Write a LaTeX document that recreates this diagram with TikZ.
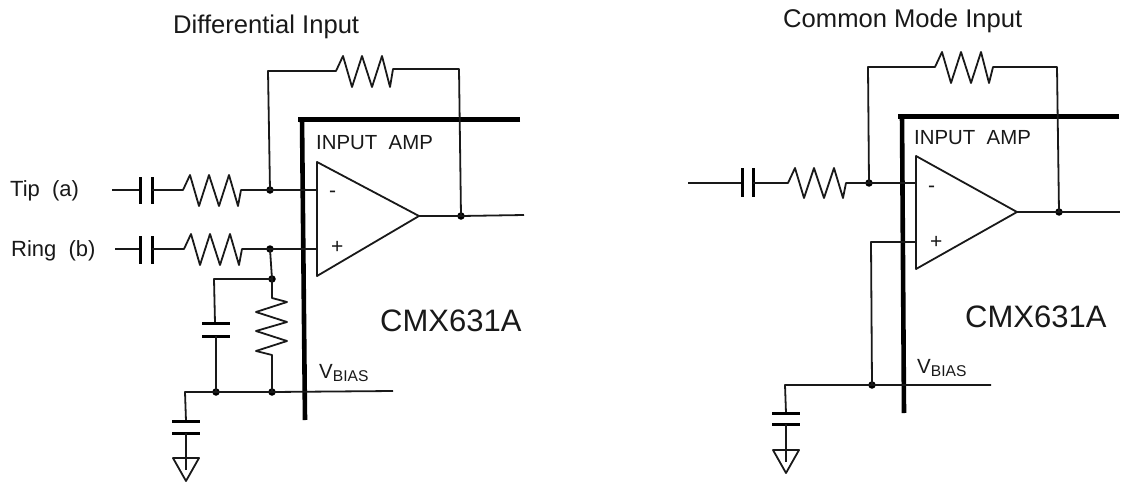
\documentclass[tikz,border=0pt]{standalone}
\usepackage{fontspec}
\setmainfont{Liberation Sans}
\begin{document}
\begin{tikzpicture}[x=1pt,y=-1pt,line join=round,
  wire/.style={draw=black!90,line width=1.8pt},
  thick bar/.style={draw=black,line width=4.6pt},
  plate/.style={draw=black,line width=3pt},
  dotn/.style={circle,fill=black,inner sep=0pt,minimum size=7.5pt},
  lab/.style={inner sep=0pt,anchor=base west,text=black!90},
  titlefont/.style={font=\fontsize{25.6}{30}\selectfont},
  ampfont/.style={font=\fontsize{20.4}{24}\selectfont},
  chipfont/.style={font=\fontsize{31}{36}\selectfont},
  pinfont/.style={font=\fontsize{22}{26}\selectfont},
  signfont/.style={font=\fontsize{21}{24}\selectfont}]
\useasboundingbox (0,0) rectangle (1122,482);
\path[fill=white] (0,0) rectangle (1122,482);
\newcommand{\vbiaslabel}{V\raisebox{-3.5pt}{\fontsize{15.6}{18}\selectfont BIAS}}

% ---------- left circuit
\node[lab,titlefont] (t1) at (173,33) {Differential Input};
\draw[thick bar] (520,119.5) -- (298,119.5);
\draw[thick bar] (302,118) -- (305,420);
\node[lab,ampfont] (ia1) at (316,149) {INPUT\ \ AMP};
\node[lab,chipfont] (cm1) at (380,331) {CMX631A};
\node[lab,font=\fontsize{20.5}{24}\selectfont] (vb1) at (319,378) {\vbiaslabel};
\node[lab,pinfont] (tip) at (10,196) {Tip\ \ (a)};
\node[lab,pinfont] (ring) at (11,256) {Ring\ \ (b)};
\coordinate (a1p1) at (317,162); \coordinate (a1p2) at (317,276); \coordinate (a1o) at (419,216);
\coordinate (in1) at (112,190); \coordinate (in2) at (115,249);
\coordinate (minus1) at (317,190); \coordinate (plus1) at (317,249);
\node[dotn] (j1) at (270,190) {};
\node[dotn] (j2) at (270,249) {};
\node[dotn] (j3) at (272,279) {};
\node[dotn] (j4) at (216,392) {};
\node[dotn] (j5) at (272,392) {};
\node[dotn] (j6) at (461,216) {};
\coordinate (c1a) at (140,190); \coordinate (c1b) at (152,190);
\coordinate (c2a) at (140,249); \coordinate (c2b) at (152,249);
\draw[wire] (in1) -- (c1a);
\draw[plate] (140,177) -- (140,204);
\draw[plate] (152,177) -- (152,204);
\draw[wire] (c1b) -- (183,190) -- (190,175) -- (199,206) -- (209,175) -- (219,206) -- (229,175) -- (238,206) -- (241,190) -- (j1.center) -- (minus1);
\draw[wire] (in2) -- (c2a);
\draw[plate] (140,236) -- (140,264);
\draw[plate] (152,236) -- (152,264);
\draw[wire] (c2b) -- (184,249) -- (191,234) -- (200,265) -- (210,234) -- (220,265) -- (230,234) -- (239,265) -- (242,249) -- (j2.center) -- (plus1);
\draw[wire] (j1.center) -- (268,71) -- (336,71) -- (343,56) -- (352,87) -- (362,56) -- (372,87) -- (382,56) -- (390,87) -- (393,69) -- (459,69) -- (j6.center);
\draw[wire] (j2.center) -- (j3.center) -- (214,279) -- (215,323);
\draw[plate] (202,323.5) -- (230,323.5);
\draw[plate] (202,336) -- (230,336);
\draw[wire] (216,336) -- (j4.center);
\draw[wire] (j3.center) -- (272,298) -- (287,302) -- (256,312) -- (287,322) -- (256,331) -- (287,341) -- (256,351) -- (272,355) -- (j5.center);
\draw[wire] (393,391) -- (j5.center) -- (j4.center) -- (185,392) -- (186,421);
\draw[plate] (172,421) -- (200,421);
\draw[plate] (172,433) -- (200,433);
\draw[wire] (186,433) -- (186,470);
\draw[wire] (173,458) -- (199,458) -- (186,481) -- cycle;
\draw[wire] (a1p1) -- (a1p2) -- (a1o) -- cycle;
\draw[wire] (a1o) -- (j6.center) -- (524,215);
\node[lab,signfont] (pl1) at (331,253) {+};
\node[lab,signfont] (mi1) at (329,197) {-};

% ---------- right circuit
\node[lab,titlefont] (t2) at (783,27) {Common Mode Input};
\draw[thick bar] (1119,116.5) -- (898,116.5);
\draw[thick bar] (902,115) -- (904,413);
\node[lab,ampfont] (ia2) at (914,144) {INPUT\ \ AMP};
\node[lab,chipfont] (cm2) at (965,327) {CMX631A};
\node[lab,font=\fontsize{20.5}{24}\selectfont] (vb2) at (917,373) {\vbiaslabel};
\coordinate (a2p1) at (916,156); \coordinate (a2p2) at (916,269); \coordinate (a2o) at (1017,212);
\coordinate (in3) at (688,183); \coordinate (minus2) at (916,183); \coordinate (plus2) at (916,242);
\node[dotn] (k1) at (869,183) {};
\node[dotn] (k2) at (1059,212) {};
\node[dotn] (k3) at (872,385) {};
\coordinate (c3a) at (742,183); \coordinate (c3b) at (753,183);
\draw[wire] (in3) -- (c3a);
\draw[plate] (742,168) -- (742,197);
\draw[plate] (753,168) -- (753,197);
\draw[wire] (c3b) -- (788,183) -- (795,168) -- (804,198) -- (814,168) -- (824,198) -- (834,168) -- (843,198) -- (846,183) -- (k1.center) -- (minus2);
\draw[wire] (k1.center) -- (868,67) -- (935,67) -- (942,52) -- (951,83) -- (961,52) -- (971,83) -- (981,52) -- (989,83) -- (993,67) -- (1057,67) -- (k2.center);
\draw[wire] (plus2) -- (871,242) -- (k3.center);
\draw[wire] (991,385) -- (k3.center) -- (785,385) -- (786,413);
\draw[plate] (772,413) -- (800,413);
\draw[plate] (772,424) -- (800,424);
\draw[wire] (786,424) -- (786,462);
\draw[wire] (773,450) -- (799,450) -- (786,473) -- cycle;
\draw[wire] (a2p1) -- (a2p2) -- (a2o) -- cycle;
\draw[wire] (a2o) -- (k2.center) -- (1120,212);
\node[lab,signfont] (pl2) at (930,248) {+};
\node[lab,signfont] (mi2) at (928,192) {-};
\end{tikzpicture}
\end{document}
